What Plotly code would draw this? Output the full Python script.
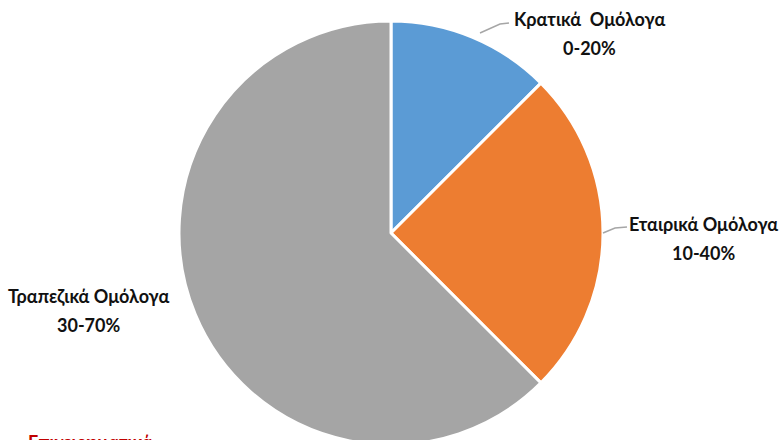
import plotly.graph_objects as go

categories = ["Κρατικά Ομόλογα", "Εταιρικά Ομόλογα", "Τραπεζικά Ομόλογα"]
values = [12.5, 25, 62.5]
ranges = ["0-20%", "10-40%", "30-70%"]
colors = ["#5B9BD5", "#ED7D31", "#A5A5A5"]

W, H = 781, 448
FONT = "Lato"


def px(x, y):
    return x / W, 1 - y / H


fig = go.Figure(go.Pie(
    labels=categories, values=values, sort=False, direction="clockwise",
    rotation=0, textinfo="none", hoverinfo="label+percent",
    marker=dict(colors=colors, line=dict(color="white", width=3)),
    domain=dict(x=[(391 - 212) / W, (391 + 212) / W], y=[1 - (233 + 212) / H, 1 - (233 - 212) / H]),
    showlegend=False,
))

label_pos = [(589, 19, 48), (703, 224, 253), (88, 296, 325)]
label_text = ["Κρατικά  Ομόλογα", "Εταιρικά Ομόλογα", "Τραπεζικά Ομόλογα"]
annotations = []
for t, r, (cx, y1, y2) in zip(label_text, ranges, label_pos):
    for txt, yy in ((t, y1), (r, y2)):
        xx, yv = px(cx, yy)
        annotations.append(dict(x=xx, y=yv, xref="paper", yref="paper", text="<b>%s</b>" % txt,
                                showarrow=False, xanchor="center", yanchor="middle",
                                font=dict(family=FONT, size=18, color="#111111")))

xx, yv = px(26, 442)
annotations.append(dict(x=xx, y=yv, xref="paper", yref="paper", text="<b>Επιχειρηματικά</b>",
                        showarrow=False, xanchor="left", yanchor="middle",
                        font=dict(family=FONT, size=18, color="#C00000")))

shapes = []
for pts in ([(480, 33), (500, 24), (509, 23)], [(603, 233), (615, 228), (627, 227)]):
    path = "M " + " L ".join("%f,%f" % px(x, y) for x, y in pts)
    shapes.append(dict(type="path", path=path, xref="paper", yref="paper",
                       line=dict(color="#A6A6A6", width=1.5)))

fig.update_layout(width=W, height=H, margin=dict(l=0, r=0, t=0, b=0),
                  paper_bgcolor="white", plot_bgcolor="white",
                  annotations=annotations, shapes=shapes)
fig.write_html("out.html", config={"displayModeBar": False},
               post_script="document.body.style.margin='0';document.body.style.overflow='hidden';")
